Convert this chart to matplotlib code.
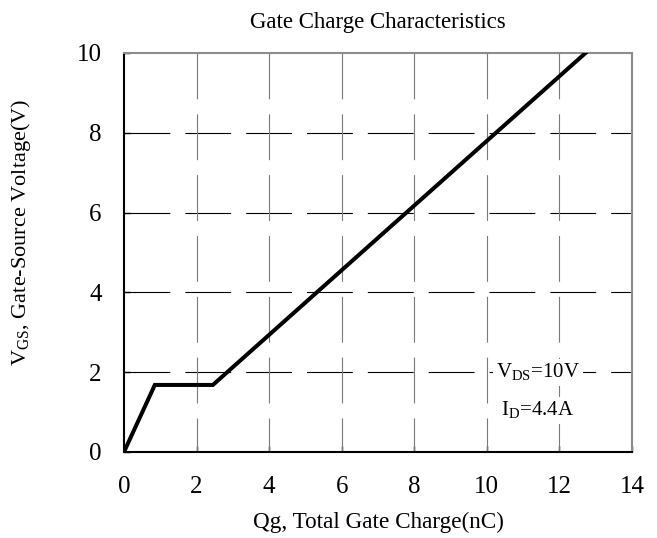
import matplotlib
matplotlib.use('Agg')
import matplotlib.pyplot as plt

# gate charge curve (Qg in nC, Vgs in V)
qg = [0.0, 0.85, 2.45, 12.72]
vgs = [0.0, 1.68, 1.68, 10.0]

xticks = [0, 2, 4, 6, 8, 10, 12, 14]
yticks = [0, 2, 4, 6, 8, 10]

plt.rcParams['font.family'] = ['Liberation Serif', 'DejaVu Serif']
plt.rcParams['mathtext.fontset'] = 'custom'
plt.rcParams['mathtext.rm'] = 'Liberation Serif'
plt.rcParams['lines.scale_dashes'] = False

fig = plt.figure(figsize=(6.57, 5.38), dpi=100)
ax = fig.add_axes([0.1887, 0.1599, 0.7732, 0.7416])

ax.set_xlim(0, 14)
ax.set_ylim(0, 10)

dash = (0, (33, 10.8))
# horizontal grid, black, starting from left axis
ax.hlines(yticks[1:-1], 0, 14, colors='black', linewidth=0.8, linestyles=[dash])
# vertical grid, grey, starting from top
ax.vlines(xticks[1:-1], 10, 0, colors='#7a7a7a', linewidth=0.8, linestyles=[dash])

ax.plot(qg, vgs, color='black', linewidth=2.9, solid_joinstyle='miter', zorder=5)

txt = dict(fontsize=15, va='center', ha='left', zorder=4,
           bbox=dict(facecolor='white', edgecolor='none', pad=2))
ax.text(10.25, 2.0, r'V$_{\mathrm{DS}}$=10V', **txt)
ax.text(10.4, 1.05, r'I$_{\mathrm{D}}$=4.4A', **txt)

ax.set_xticks(xticks)
ax.set_yticks(yticks)
ax.tick_params(direction='in', length=4, width=1, labelsize=18)
ax.tick_params(axis='x', pad=17)
ax.tick_params(axis='y', pad=16)

for s in ['left', 'bottom']:
    ax.spines[s].set_linewidth(1.5)
    ax.spines[s].set_color('black')
for s in ['top', 'right']:
    ax.spines[s].set_linewidth(1.5)
    ax.spines[s].set_color('#8c8c8c')

ax.set_title('Gate Charge Characteristics', fontsize=16.5, pad=18)
ax.set_xlabel('Qg, Total Gate Charge(nC)', fontsize=16.7, labelpad=10)
ax.set_ylabel(r'V$_{\mathrm{GS}}$, Gate-Source Voltage(V)', fontsize=16)
ax.yaxis.set_label_coords(-0.18, 0.55)

fig.savefig('out.png', dpi=100)
